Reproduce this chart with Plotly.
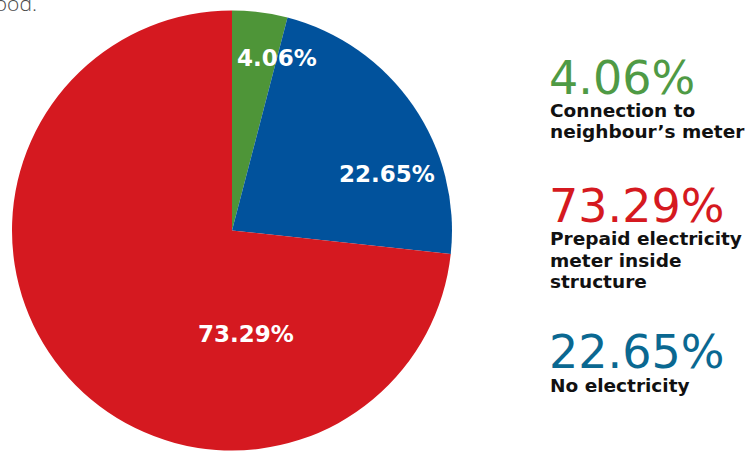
import plotly.graph_objects as go

# Electricity access categories, shares in percent
categories = ["Connection to neighbour’s meter", "No electricity", "Prepaid electricity meter inside structure"]
legend_lines = [
    ["Connection to", "neighbour’s meter"],
    ["No electricity"],
    ["Prepaid electricity", "meter inside", "structure"],
]
shares = [4.06, 22.65, 73.29]
slice_colors = ["#4E9538", "#01529C", "#D51920"]
legend_colors = ["#4F9A45", "#0A6891", "#D51920"]

W, H = 750, 455


def px_x(x):
    return x / W


def px_y(y):
    return 1 - y / H


fig = go.Figure(
    go.Pie(
        labels=categories,
        values=shares,
        sort=False,
        direction="clockwise",
        rotation=0,
        marker=dict(colors=slice_colors, line=dict(width=0)),
        textinfo="none",
        hoverinfo="label+percent",
        domain=dict(x=[px_x(12), px_x(452)], y=[px_y(451), px_y(10)]),
        showlegend=False,
    )
)

annotations = []

# Percentage labels on the slices
label_pos = [(277, 58.5), (387, 173.5), (246, 333.5)]
for v, (x, y) in zip(shares, label_pos):
    annotations.append(dict(
        text=f"{v:.2f}%", x=px_x(x), y=px_y(y), xref="paper", yref="paper",
        xanchor="center", yanchor="middle", showarrow=False,
        font=dict(family="DejaVu Sans", size=23, color="white", weight=700),
    ))

# Side legend: big figure with description lines underneath
number_centers = [78, 351.5, 206.5]
line_centers = [[110, 131], [385], [238, 260, 281]]
for i in range(len(shares)):
    annotations.append(dict(
        text=f"{shares[i]:.2f}%", x=px_x(547), y=px_y(number_centers[i]),
        xref="paper", yref="paper", xanchor="left", yanchor="middle", showarrow=False,
        font=dict(family="DejaVu Sans", size=46, color=legend_colors[i], weight=400),
    ))
    for line, yc in zip(legend_lines[i], line_centers[i]):
        annotations.append(dict(
            text=line, x=px_x(548), y=px_y(yc), xref="paper", yref="paper",
            xanchor="left", yanchor="middle", showarrow=False,
            font=dict(family="DejaVu Sans", size=18.5, color="#111111", weight=700),
        ))

# Tail of the preceding sentence, clipped at the top edge
annotations.append(dict(
    text="neighbourhood.", x=px_x(39), y=px_y(19), xref="paper", yref="paper",
    xanchor="right", yanchor="bottom", showarrow=False,
    font=dict(family="Open Sans", size=21, color="#4a4a4a", weight=300),
))

fig.update_layout(
    width=W, height=H,
    margin=dict(l=0, r=0, t=0, b=0),
    paper_bgcolor="white",
    plot_bgcolor="white",
    annotations=annotations,
)

fig.write_html("out.html")
